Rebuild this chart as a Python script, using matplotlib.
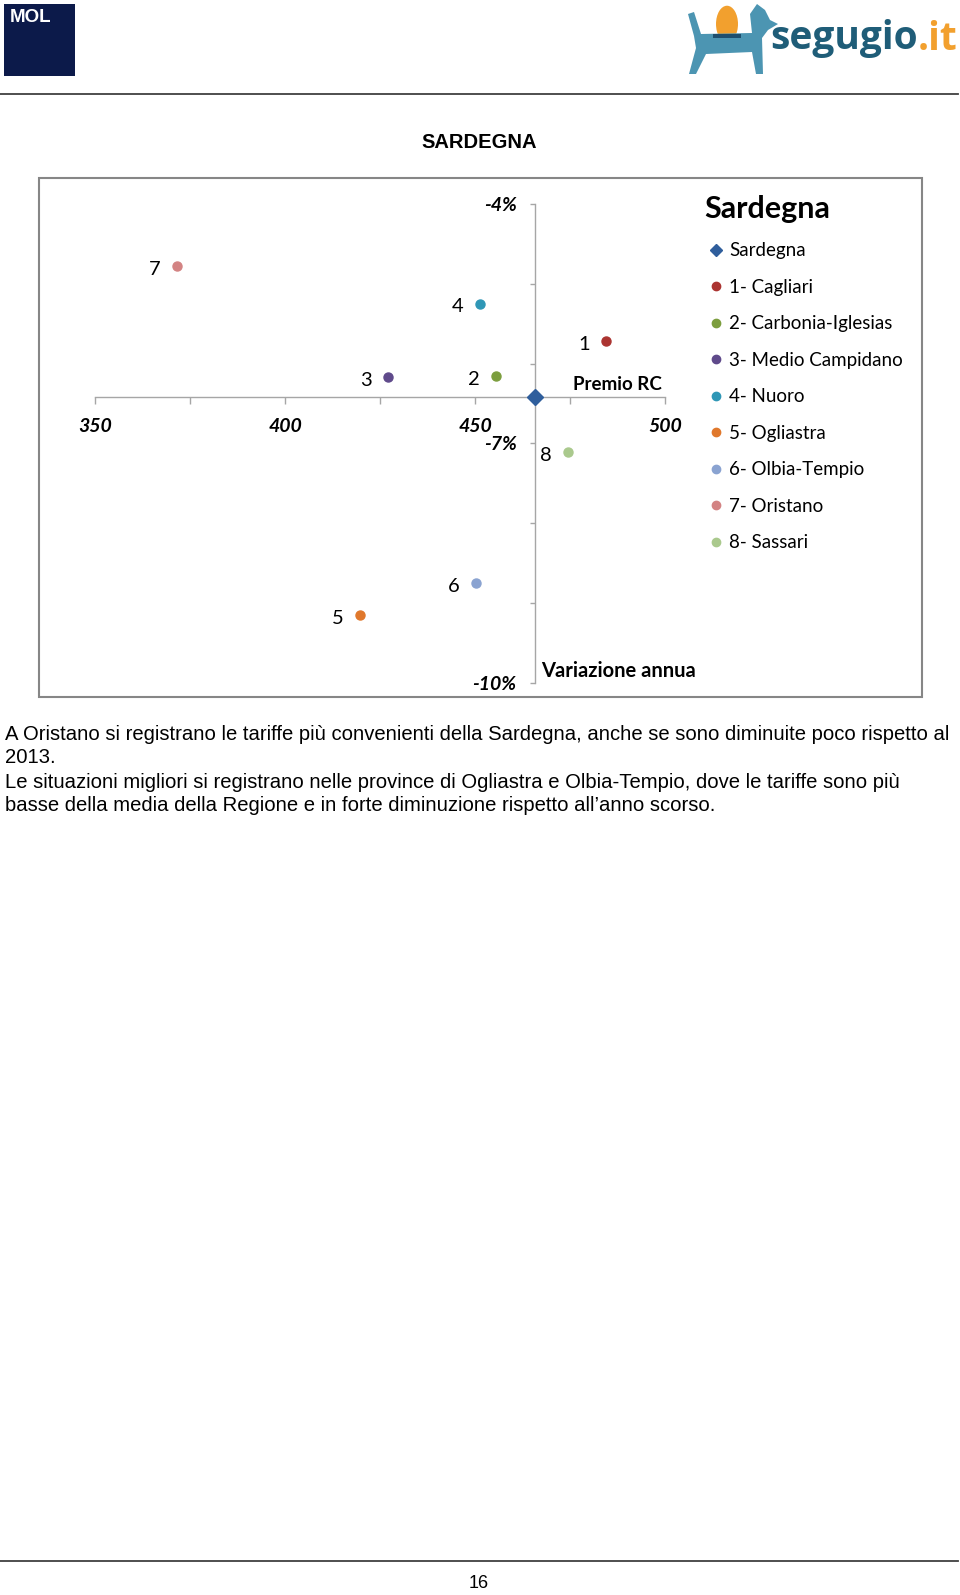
import matplotlib
matplotlib.use('Agg')
import matplotlib.pyplot as plt
from matplotlib.lines import Line2D
from matplotlib.patches import Rectangle, Polygon, Circle

# dati del grafico (Premio RC medio in euro, variazione annua in %)
province = ['Sardegna', '1- Cagliari', '2- Carbonia-Iglesias', '3- Medio Campidano',
            '4- Nuoro', '5- Ogliastra', '6- Olbia-Tempio', '7- Oristano', '8- Sassari']
etichette = ['', '1', '2', '3', '4', '5', '6', '7', '8']
premio = [465.8, 484.6, 455.4, 427.1, 451.2, 419.8, 450.2, 371.6, 474.5]
variazione = [-6.42, -5.72, -6.16, -6.17, -5.25, -9.15, -8.75, -4.78, -7.11]
colori = ['#2f5e9c', '#ab3431', '#7c9e3e', '#5f4a8b', '#2f97b6',
          '#e0782c', '#8aa3d1', '#d38383', '#aac98d']

x_ticks = [350, 400, 450, 500]
y_ticks = [-4, -7, -10]

testo = [
    "A Oristano si registrano le tariffe più convenienti della Sardegna, anche se sono diminuite poco rispetto al",
    "2013.",
    "Le situazioni migliori si registrano nelle province di Ogliastra e Olbia-Tempio, dove le tariffe sono più",
    "basse della media della Regione e in forte diminuzione rispetto all’anno scorso.",
]

W, H = 960, 1595


def fx(x):
    return x / W


def fy(y):
    return 1 - y / H


fig = plt.figure(figsize=(9.6, 15.95), dpi=100)
fig.patch.set_facecolor('white')

# intestazione: logo MOL e segugio.it
fig.patches.append(Rectangle((fx(4), fy(76)), 71 / W, 72 / H, transform=fig.transFigure,
                             facecolor='#0c1a4a', edgecolor='none'))
fig.text(fx(10), fy(18), 'MOL', fontsize=13.5, fontweight='heavy', color='white',
         family='Liberation Sans', ha='left', va='center')

dog = [(694, 12), (701, 34), (752, 33), (750, 14), (757, 4), (765, 10), (770, 20),
       (778, 24), (768, 30), (762, 38), (763, 74), (756, 74), (752, 52), (706, 54),
       (696, 74), (689, 74), (696, 48), (694, 36), (688, 14)]
fig.patches.append(Circle((fx(727), fy(24)), 11 / W, transform=fig.transFigure,
                          facecolor='#f2a02e', edgecolor='none'))
fig.patches.append(Polygon([(fx(a), fy(b)) for a, b in dog], closed=True,
                           transform=fig.transFigure, facecolor='#4c95b2', edgecolor='none'))
fig.patches.append(Rectangle((fx(713), fy(38)), 28 / W, 4 / H, transform=fig.transFigure,
                             facecolor='#1e4f6e', edgecolor='none'))
t_seg = fig.text(fx(770), fy(39), 'segugio', fontsize=28, fontweight='bold', color='#1f5d78',
                 family='Open Sans', ha='left', va='center')
fig.canvas.draw()
bb = t_seg.get_window_extent()
fig.text(bb.x1 / W, fy(39), '.it', fontsize=28, fontweight='bold', color='#f2a02e',
         family='Open Sans', ha='left', va='center')

fig.add_artist(Line2D([0, fx(958)], [fy(93.5), fy(93.5)], color='#404040', lw=1.3))
fig.add_artist(Line2D([0, fx(958)], [fy(1561), fy(1561)], color='#404040', lw=1.3))
fig.text(fx(479), fy(1584), '16', fontsize=13, family='Liberation Sans', ha='center', va='center')

fig.text(fx(479), fy(142.5), 'SARDEGNA', fontsize=14.5, fontweight='bold',
         family='Liberation Sans', ha='center', va='center')

# cornice del grafico
fig.patches.append(Rectangle((fx(38.5), fy(696.5)), 883 / W, 518 / H, transform=fig.transFigure,
                             facecolor='none', edgecolor='#868686', lw=1.5))

# area dati: 350..500 sull'asse x, -10..-4 sull'asse y
ax = fig.add_axes([fx(95), fy(683), 570 / W, 479 / H])
ax.set_xlim(350, 500)
ax.set_ylim(-10, -4)
ax.patch.set_alpha(0)

for i in range(len(province)):
    if i == 0:
        ax.plot(premio[i], variazione[i], marker='D', color=colori[i], markersize=8.5,
                linestyle='none', label=province[i], zorder=4, clip_on=False)
    else:
        ax.plot(premio[i], variazione[i], marker='o', color=colori[i], markersize=6.5,
                linestyle='none', label=province[i], zorder=4, clip_on=False)
        ax.annotate(etichette[i], (premio[i], variazione[i]), xytext=(-22, -3),
                    textcoords='offset pixels', ha='center', va='center',
                    fontsize=14.5, family='Lato', color='black')

ax.spines['top'].set_visible(False)
ax.spines['right'].set_visible(False)
ax.spines['left'].set_position(('data', premio[0]))
ax.spines['bottom'].set_position(('data', variazione[0]))
for s in ['left', 'bottom']:
    ax.spines[s].set_color('#a6a6a6')
    ax.spines[s].set_linewidth(1.0)

ax.set_xticks(x_ticks)
ax.set_xticks([375, 425, 475], minor=True)
ax.set_xticklabels([str(v) for v in x_ticks])
ax.set_yticks(y_ticks)
ax.set_yticks([-5, -6, -8, -9], minor=True)
ax.set_yticklabels(['%d%%' % v for v in y_ticks])
ax.tick_params(axis='x', which='both', direction='out', length=5, width=1,
               color='#a6a6a6', pad=10)
ax.tick_params(axis='y', which='both', direction='out', length=3.3, width=1,
               color='#a6a6a6', pad=10)
for lab in ax.get_xticklabels() + ax.get_yticklabels():
    lab.set_fontfamily('Lato')
    lab.set_fontweight('bold')
    lab.set_fontstyle('italic')
    lab.set_fontsize(14)

ax.annotate('Premio RC', (500, variazione[0]), xytext=(-3, 4), textcoords='offset pixels',
            ha='right', va='bottom', fontsize=13.5, fontweight='bold', family='Lato')
ax.annotate('Variazione annua', (premio[0], -10), xytext=(6, 12), textcoords='offset pixels',
            ha='left', va='center', fontsize=14.5, fontweight='bold', family='Lato')

leg = ax.legend(loc='upper left', bbox_to_anchor=(fx(704), fy(195)),
                bbox_transform=fig.transFigure, frameon=False, title='Sardegna',
                alignment='left', handlelength=1.3, handletextpad=0.05,
                labelspacing=1.04, borderpad=0, borderaxespad=0,
                prop={'family': 'Lato', 'size': 13.5},
                title_fontproperties={'family': 'Lato', 'weight': 'bold', 'size': 22})
leg._legend_box.sep = 14
for h in leg.legend_handles:
    if h.get_marker() == 'D':
        h.set_markersize(6.5)
    else:
        h.set_markersize(6)

# testo di commento
righe_y = [734, 757.5, 782, 805.5]
for riga, y in zip(testo, righe_y):
    fig.text(fx(5), fy(y), riga, fontsize=14.6, family='Liberation Sans',
             ha='left', va='center')

fig.savefig('out.png', dpi=100)
